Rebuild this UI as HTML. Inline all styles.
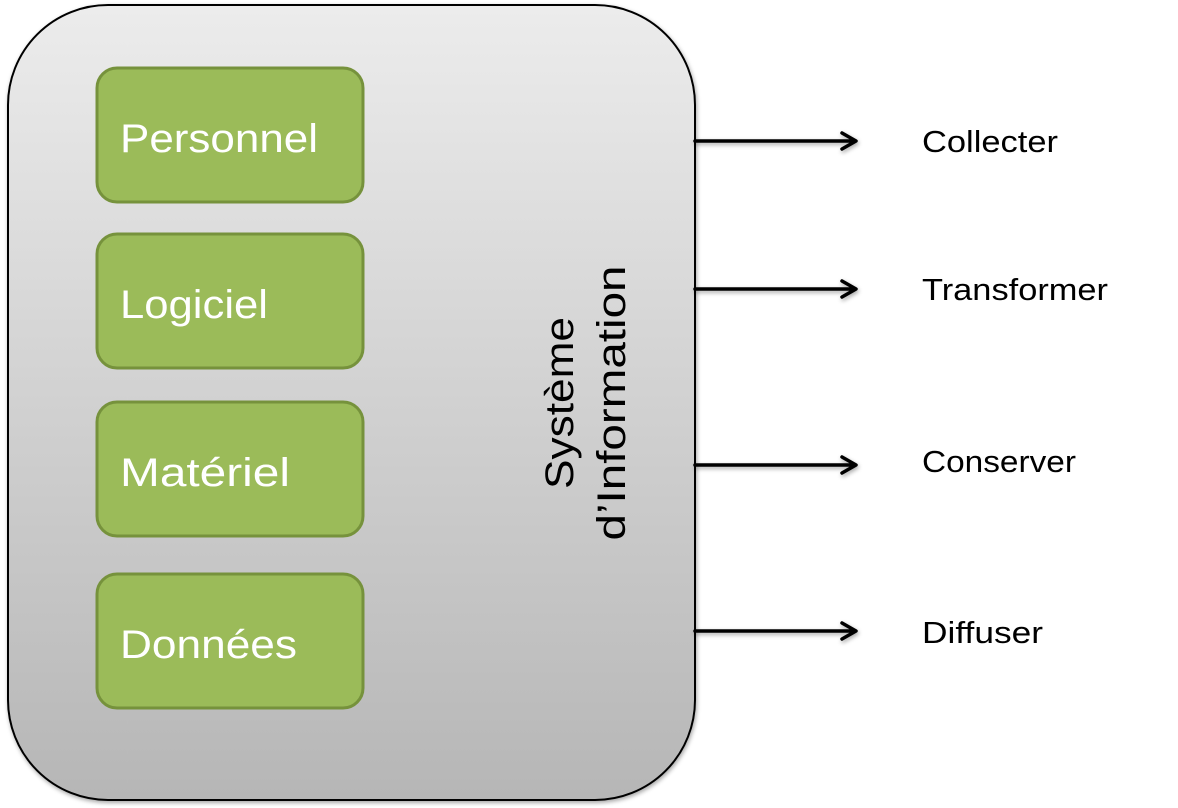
<!DOCTYPE html>
<html><head><meta charset="utf-8"><style>
html,body{margin:0;padding:0;background:#fff;width:1178px;height:808px;overflow:hidden}
svg text{font-family:"Liberation Sans",sans-serif}
</style></head><body>
<svg width="1178" height="808" viewBox="0 0 1178 808" xmlns="http://www.w3.org/2000/svg">
<defs>
<linearGradient id="g" x1="0" y1="0" x2="0" y2="1">
<stop offset="0" stop-color="#ececec"/><stop offset="1" stop-color="#b6b6b6"/>
</linearGradient>
<filter id="s" x="-5%" y="-5%" width="110%" height="110%"><feDropShadow dx="1" dy="2" stdDeviation="2" flood-opacity="0.35"/></filter>
</defs>
<rect x="8" y="5" width="687" height="795" rx="100" ry="100" fill="url(#g)" stroke="#000" stroke-width="2" filter="url(#s)"/>
<g fill="#9bbb59" stroke="#76923c" stroke-width="3">
<rect x="97" y="68" width="266" height="134" rx="20"/>
<rect x="97" y="234" width="266" height="134" rx="20"/>
<rect x="97" y="402" width="266" height="134" rx="20"/>
<rect x="97" y="574" width="266" height="134" rx="20"/>
</g>
<g fill="#fff" font-size="40">
<text x="120" y="152" textLength="198" lengthAdjust="spacingAndGlyphs">Personnel</text>
<text x="120" y="318" textLength="148" lengthAdjust="spacingAndGlyphs">Logiciel</text>
<text x="120" y="486" textLength="170" lengthAdjust="spacingAndGlyphs">Matériel</text>
<text x="120" y="658" textLength="177" lengthAdjust="spacingAndGlyphs">Données</text>
</g>
<g transform="translate(590,403) rotate(-90)" font-size="40" text-anchor="middle" fill="#000">
<text x="0" y="-17" textLength="172" lengthAdjust="spacingAndGlyphs">Système</text>
<text x="0" y="35" textLength="275" lengthAdjust="spacingAndGlyphs">d’Information</text>
</g>
<g stroke="#000" stroke-width="3.5" fill="none" stroke-linecap="round" stroke-linejoin="round" filter="url(#s)">
<path d="M695 141H855M842 133L856 141L842 149"/>
<path d="M695 289H855M842 281L856 289L842 297"/>
<path d="M695 465H855M842 457L856 465L842 473"/>
<path d="M695 631H855M842 623L856 631L842 639"/>
</g>
<g font-size="31" fill="#000">
<text x="922" y="152" textLength="136" lengthAdjust="spacingAndGlyphs">Collecter</text>
<text x="922" y="300" textLength="186" lengthAdjust="spacingAndGlyphs">Transformer</text>
<text x="922" y="472" textLength="154" lengthAdjust="spacingAndGlyphs">Conserver</text>
<text x="922" y="643" textLength="121" lengthAdjust="spacingAndGlyphs">Diffuser</text>
</g>
</svg>
</body></html>
